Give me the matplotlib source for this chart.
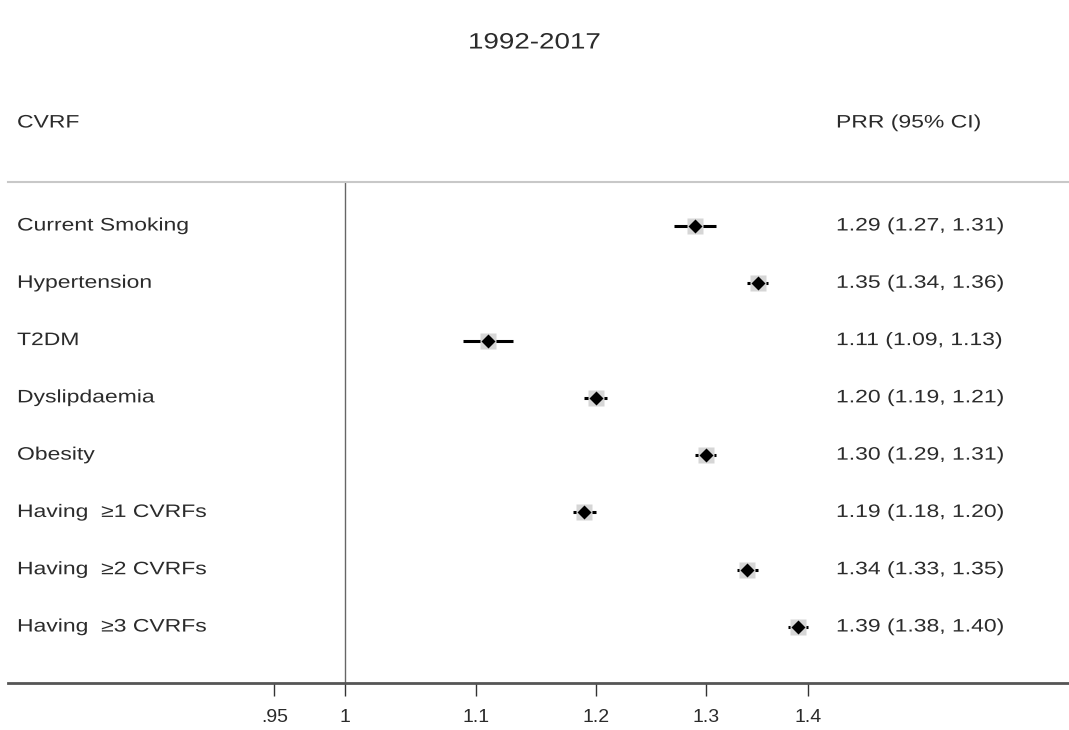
import matplotlib
import matplotlib.pyplot as plt
import numpy as np
from matplotlib.patheffects import AbstractPathEffect
from matplotlib.transforms import Affine2D

matplotlib.use("Agg")

plt.rcParams["font.family"] = ["Liberation Sans", "DejaVu Sans"]

labels = [
    "Current Smoking",
    "Hypertension",
    "T2DM",
    "Dyslipdaemia",
    "Obesity",
    "Having  \u22651 CVRFs",
    "Having  \u22652 CVRFs",
    "Having  \u22653 CVRFs",
]
prr = [1.29, 1.35, 1.11, 1.20, 1.30, 1.19, 1.34, 1.39]
lower = [1.27, 1.34, 1.09, 1.19, 1.29, 1.18, 1.33, 1.38]
upper = [1.31, 1.36, 1.13, 1.21, 1.31, 1.20, 1.35, 1.40]
tick_values = [0.95, 1, 1.1, 1.2, 1.3, 1.4]
tick_labels = [".95", "1", "1.1", "1.2", "1.3", "1.4"]


class HStretch(AbstractPathEffect):
    """Widen text horizontally from its left origin (the source font is wide)."""

    def __init__(self, sx):
        super().__init__()
        self.sx = sx

    def draw_path(self, renderer, gc, tpath, affine, rgbFace=None):
        renderer.draw_path(gc, tpath, Affine2D().scale(self.sx, 1) + affine, rgbFace)


W, H = 1069, 730
fig = plt.figure(figsize=(W / 100, H / 100), dpi=100)
ax = fig.add_axes([8 / W, 1 - 683 / H, 1 - 8 / W, (683 - 182) / H])

text_color = "#2b2b2b"
wide = [HStretch(1.27)]
ypos = -np.arange(len(labels))

ax.set_xscale("log")
ax.set_xlim(np.exp((8 - 345) / 1375), np.exp((1069 - 345) / 1375))
ax.set_ylim(-7.977, 0.768)

# reference line at 1
ax.axvline(1, color="#666666", lw=1.0, zorder=1)

for y, est, lo, hi in zip(ypos, prr, lower, upper):
    ax.plot([lo, hi], [y, y], color="black", lw=2.2, solid_capstyle="butt", zorder=2)
    ax.plot(est, y, marker="s", ms=11, color="#d6d6d6", mec="none", zorder=2)
    ax.plot(est, y, marker="D", ms=7, color="black", mec="none", zorder=3)

# text columns
trans = ax.get_yaxis_transform()
for y, lab, est, lo, hi in zip(ypos, labels, prr, lower, upper):
    ax.text((17 - 8) / (W - 8), y, lab, transform=trans, va="center", ha="left",
            fontsize=13, color=text_color, path_effects=wide)
    ax.text((836 - 8) / (W - 8), y, f"{est:.2f} ({lo:.2f}, {hi:.2f})", transform=trans,
            va="center", ha="left", fontsize=13, color=text_color, path_effects=wide)

fig.text(17 / W, 1 - 123 / H, "CVRF", va="center", ha="left", fontsize=13,
         color=text_color, path_effects=wide)
fig.text(836 / W, 1 - 123 / H, "PRR (95% CI)", va="center", ha="left", fontsize=13,
         color=text_color, path_effects=wide)
fig.text(468 / W, 1 - 43 / H, "1992-2017", va="center", ha="left", fontsize=16,
         color=text_color, path_effects=[HStretch(1.25)])

# spines
for side in ["left", "right"]:
    ax.spines[side].set_visible(False)
ax.spines["top"].set_color("#c8c8c8")
ax.spines["top"].set_linewidth(1.5)
ax.spines["bottom"].set_color("#555555")
ax.spines["bottom"].set_linewidth(2)

ax.set_yticks([])
ax.set_xticks(tick_values)
ax.set_xticklabels(tick_labels)
ax.xaxis.set_minor_locator(matplotlib.ticker.NullLocator())
ax.tick_params(axis="x", length=9, width=1, color="#333333", labelsize=14,
               labelcolor=text_color, pad=10)

fig.savefig("out.png", dpi=100)
plt.close(fig)
